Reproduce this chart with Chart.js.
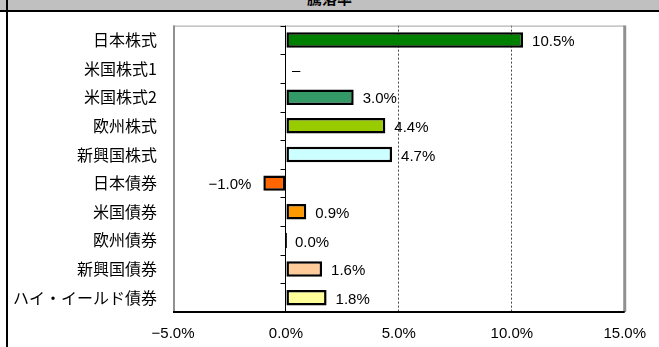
<!DOCTYPE html>
<html>
<head>
<meta charset="utf-8">
<script src="https://cdn.jsdelivr.net/npm/chart.js@4"></script>
<style>
    html, body { margin: 0; padding: 0; background: #fff; }
    #wrap { position: relative; width: 659px; height: 347px; overflow: hidden; }
    #band { position: absolute; left: 0; top: 0; width: 659px; height: 10px; background: #c0c0c0; border-bottom: 2px solid #000; overflow: hidden; }
    #title { position: absolute; left: 0; top: -13px; width: 659px; text-align: center; font: bold 15px "Noto Sans CJK JP"; color: #000; }
    #leftline { position: absolute; left: 6px; top: 0; width: 2px; height: 347px; background: #000; }
    canvas { position: absolute; left: 0; top: 0; }
</style>
</head>
<body>
<div id="wrap">
    <canvas id="returnChart" width="659" height="347"></canvas>
    <div id="band"><div id="title">騰落率</div></div>
    <div id="leftline"></div>
</div>
<script>
// categories and values (%)
const categories = ['日本株式', '米国株式1', '米国株式2', '欧州株式', '新興国株式',
                    '日本債券', '米国債券', '欧州債券', '新興国債券', 'ハイ・イールド債券'];
const returns = [10.5, null, 3.0, 4.4, 4.7, -1.0, 0.9, 0.0, 1.6, 1.8];
const barColors = ['#008000', '#ffffff', '#339966', '#99cc00', '#ccffff',
                   '#ff6600', '#ff9900', '#000000', '#ffcc99', '#ffff99'];
const xTicks = [-5, 0, 5, 10, 15];

// frame, zero line with its small ticks, and value labels
const decorPlugin = {
    id: 'decor',
    beforeDatasetsDraw(chart) {
        const ctx = chart.ctx;
        const a = chart.chartArea;
        const x = chart.scales.x;
        const y = chart.scales.y;
        ctx.save();
        // gray frame
        ctx.strokeStyle = '#a0a0a0';
        ctx.lineWidth = 1;
        ctx.beginPath();
        ctx.moveTo(a.left, a.top + 0.5);
        ctx.lineTo(a.right, a.top + 0.5);
        ctx.stroke();
        ctx.strokeStyle = '#909090';
        ctx.lineWidth = 2;
        ctx.beginPath();
        ctx.moveTo(a.left + 1, a.top);
        ctx.lineTo(a.left + 1, a.bottom);
        ctx.stroke();
        ctx.lineWidth = 3;
        ctx.beginPath();
        ctx.moveTo(a.right, a.top);
        ctx.lineTo(a.right, a.bottom);
        ctx.stroke();
        // bottom axis
        ctx.strokeStyle = '#000';
        ctx.lineWidth = 2;
        ctx.beginPath();
        ctx.moveTo(a.left, a.bottom);
        ctx.lineTo(a.right, a.bottom);
        ctx.stroke();
        // zero line
        const zx = Math.round(x.getPixelForValue(0)) - 0.5;
        ctx.lineWidth = 1;
        ctx.beginPath();
        ctx.moveTo(zx, a.top);
        ctx.lineTo(zx, a.bottom);
        for (let i = 0; i <= categories.length; i++) {
            let ty;
            if (i === 0) ty = a.top;
            else if (i === categories.length) ty = a.bottom;
            else ty = (y.getPixelForValue(i - 1) + y.getPixelForValue(i)) / 2;
            ty = Math.round(ty) + 0.5;
            ctx.moveTo(zx - 5, ty);
            ctx.lineTo(zx, ty);
        }
        ctx.stroke();
        ctx.restore();
    },
    afterDatasetsDraw(chart) {
        const ctx = chart.ctx;
        const x = chart.scales.x;
        const y = chart.scales.y;
        ctx.save();
        ctx.font = '15px "Liberation Sans"';
        ctx.fillStyle = '#000';
        ctx.textBaseline = 'middle';
        returns.forEach((v, i) => {
            const py = y.getPixelForValue(i) + 2;
            if (v === null) {
                ctx.textAlign = 'left';
                ctx.fillText('–', x.getPixelForValue(0) + 6, py);
                return;
            }
            const px = x.getPixelForValue(v);
            const txt = v.toFixed(1) + '%';
            if (v < 0) {
                ctx.textAlign = 'right';
                ctx.fillText(txt.replace('-', '−'), px - 12, py);
            } else {
                ctx.textAlign = 'left';
                ctx.fillText(txt, px + 9, py);
            }
        });
        ctx.restore();
    }
};

new Chart(document.getElementById('returnChart'), {
    type: 'bar',
    data: {
        labels: categories,
        datasets: [{
            data: returns,
            backgroundColor: barColors,
            borderColor: '#000',
            borderWidth: 2.5,
            borderSkipped: false,
            minBarLength: 2,
            categoryPercentage: 1,
            barPercentage: 0.54
        }]
    },
    options: {
        indexAxis: 'y',
        responsive: false,
        animation: false,
        layout: { padding: { top: 20, right: 32, left: 0, bottom: 0 } },
        plugins: {
            legend: { display: false },
            tooltip: { enabled: false }
        },
        scales: {
            x: {
                min: -5,
                max: 15,
                afterBuildTicks: scale => {
                    scale.ticks = xTicks.map(v => ({ value: v }));
                },
                afterFit: scale => { scale.height = 35; },
                ticks: {
                    padding: 13,
                    color: '#000',
                    font: { family: 'Liberation Sans', size: 15 },
                    callback: v => (v < 0 ? '−' + Math.abs(v).toFixed(1) : v.toFixed(1)) + '%'
                },
                grid: {
                    drawTicks: false,
                    lineWidth: 1,
                    color: c => (c.tick && (c.tick.value === 5 || c.tick.value === 10)) ? '#444' : 'rgba(0,0,0,0)'
                },
                border: { display: false, dash: [2, 2] }
            },
            y: {
                afterFit: scale => { scale.width = 173; },
                ticks: {
                    padding: 16,
                    color: '#000',
                    font: { family: 'Noto Sans CJK JP', size: 16 }
                },
                grid: { display: false, drawTicks: false },
                border: { display: false }
            }
        }
    },
    plugins: [decorPlugin]
});
</script>
</body>
</html>
